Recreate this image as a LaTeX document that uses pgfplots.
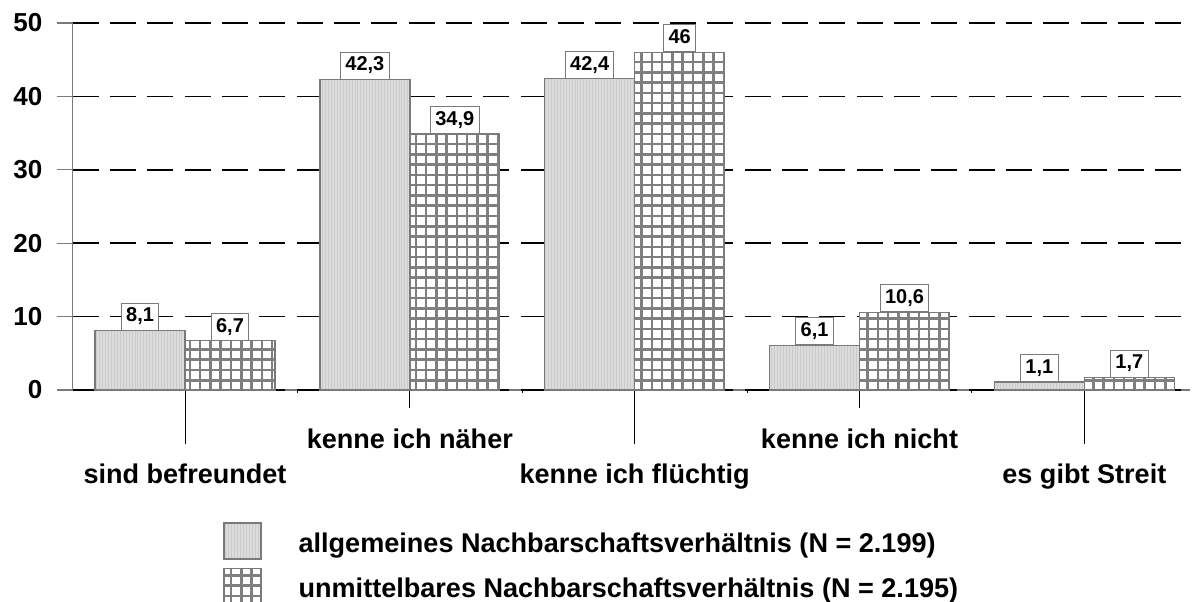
\documentclass[border=0pt]{standalone}
\usepackage{fontspec}
\setmainfont{Liberation Sans}
\usepackage{pgfplots}
\pgfplotsset{compat=1.18}
\usetikzlibrary{patterns.meta}
\definecolor{barA}{HTML}{DCDCDC}
\definecolor{barAline}{HTML}{CACACA}
\definecolor{edge}{HTML}{7A7A7A}
\definecolor{gridc}{HTML}{7F7F7F}
\tikzdeclarepattern{
  name=biggrid,
  type=uncolored,
  bottom left={(-1pt,-1pt)},
  top right={(8.7pt,8.7pt)},
  tile size={(7.7pt,7.7pt)},
  code={
    \draw[line width=1.9pt] (-1pt,3.85pt) -- (8.7pt,3.85pt) (3.85pt,-1pt) -- (3.85pt,8.7pt);
  }
}
\begin{document}
\begin{tikzpicture}
\begin{axis}[
  at={(0,0)}, anchor=south west,
  scale only axis,
  width=838.05pt, height=275.25pt,
  xmin=-0.5, xmax=4.47,
  ymin=0, ymax=50,
  clip=false,
  axis lines*=left,
  axis line style={edge, line width=1pt},
  ybar, bar width=0.4,
  /pgf/number format/assume math mode=true,
  /pgf/number format/use comma,
  /pgf/number format/fixed,
  /pgf/number format/precision=1,
  ytick=\empty,
  extra y ticks={0,10,20,30,40,50},
  extra y tick style={major tick length=12pt, grid=major, tick style={edge, line width=1pt},
    major grid style={black, line width=1.1pt, dash pattern=on 19.5pt off 8.5pt}},
  yticklabel style={font=\bfseries\fontsize{19.5}{19.5}\selectfont, anchor=east, xshift=-7.25pt},
  tick align=outside,
  tick style={black, line width=0.75pt},
  major tick length=40.5pt,
  xtick={0,2,4},
  xticklabels={sind befreundet, kenne ich flüchtig, es gibt Streit},
  xticklabel style={font=\bfseries\fontsize{20.3}{20.3}\selectfont, anchor=base, yshift=-29.5pt},
  extra x ticks={1,3},
  extra x tick labels={kenne ich näher, kenne ich nicht},
  extra x tick style={major tick length=13.5pt, xticklabel style={yshift=-0.8pt}},
  minor xtick={0.5,1.5,2.5,3.5},
  minor tick length=2pt,
  nodes near coords,
  every node near coord/.append style={font=\bfseries\fontsize{15}{15}\selectfont, draw=edge, line width=0.75pt, fill=white, inner xsep=3.6pt, text height=10.8pt, text depth=3pt, inner ysep=3.2pt, anchor=south},
  legend style={at={(axis description cs:0,0)}, anchor=north west, xshift=112.8pt, yshift=-99pt, draw=none, fill=none, inner sep=0pt, row sep=6pt, font=\bfseries\fontsize{20.3}{20.3}\selectfont, nodes={inner sep=0pt}, /tikz/every odd column/.append style={column sep=27.75pt}},
  legend cell align=left,
]
\addplot[draw=edge, line width=1pt, fill=barA, postaction={pattern={Lines[angle=90, distance=2.2pt, line width=0.6pt]}, pattern color=barAline}, bar shift=-0.2,
  legend image code/.code={\draw[draw=edge, line width=1pt, fill=barA, postaction={pattern={Lines[angle=90, distance=2.2pt, line width=0.6pt]}, pattern color=barAline}] (0pt,-11.75pt) rectangle (27.75pt,15.25pt);}]
  coordinates {(0,8.1) (1,42.3) (2,42.4) (3,6.1) (4,1.1)};
\addlegendentry{allgemeines Nachbarschaftsverhältnis (N = 2.199)}
\addplot[draw=edge, line width=1pt, fill=white, postaction={pattern=biggrid, pattern color=gridc}, bar shift=0.2,
  legend image code/.code={\draw[draw=edge, line width=1pt, fill=white, postaction={pattern=biggrid, pattern color=gridc}] (0pt,-11.75pt) rectangle (27.75pt,15.25pt);}]
  coordinates {(0,6.7) (1,34.9) (2,46) (3,10.6) (4,1.7)};
\addlegendentry{unmittelbares Nachbarschaftsverhältnis (N = 2.195)}
\end{axis}
\pgfresetboundingbox
\path[use as bounding box] (-54.45pt,-158.25pt) rectangle (839.55pt,292.5pt);
\end{tikzpicture}
\end{document}
